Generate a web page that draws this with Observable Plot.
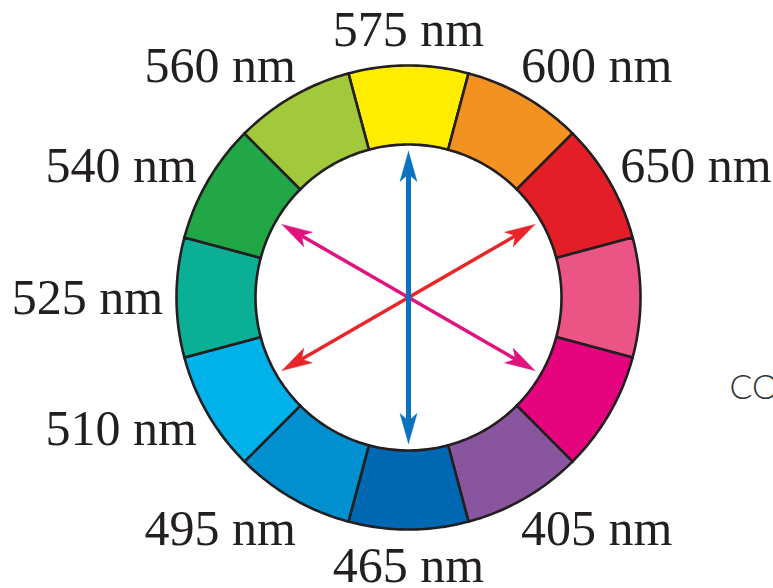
<!DOCTYPE html>
<html>
<head>
<meta charset="utf-8">
<script src="https://cdn.jsdelivr.net/npm/d3@7"></script>
<script src="https://cdn.jsdelivr.net/npm/@observablehq/plot@0.6"></script>
<style>
  html, body { margin: 0; padding: 0; background: #fff; }
  #chart svg { display: block; }
</style>
</head>
<body>
<div id="chart"></div>
<script>
// ---- Data ----
// 12 hue segments clockwise from the top (centre angle in degrees, clockwise from 12 o'clock)
const segmentLabels = ["575 nm", "600 nm", "650 nm", "", "", "405 nm", "465 nm", "495 nm", "510 nm", "525 nm", "540 nm", "560 nm"];
const segmentColors = ["#ffed00", "#f39221", "#e41e26", "#eb5586", "#e6037e", "#8a559f", "#0068b3", "#008fcf", "#00b1ea", "#0aaf96", "#22a746", "#a2c83b"];
const segmentAngles = [0, 30, 60, 90, 120, 150, 180, 210, 240, 270, 300, 330];

// complementary-pair double arrows (angle of one end, clockwise from top)
const arrowAngles = [60, 300, 0];
const arrowColors = ["#e8262a", "#e0137f", "#0a72bf"];
const arrowWidths = [3.5, 3.5, 5];

const sideText = ["CO"];

// ---- Geometry helpers (data units = pixels, y up, wheel centre at 0,0) ----
const R_OUT = 232, R_IN = 153, R_ARROW = 146, HEAD_L = 30, HEAD_W = 8.5;
const rad = d => d * Math.PI / 180;
const polar = (r, deg) => [r * Math.sin(rad(deg)), r * Math.cos(rad(deg))];

function segmentPolygon(center) {
  const pts = [];
  const n = 30;
  for (let k = 0; k <= n; k++) pts.push(polar(R_OUT, center - 15 + 30 * k / n));
  for (let k = 0; k <= n; k++) pts.push(polar(R_IN, center + 15 - 30 * k / n));
  pts.push(pts[0]);
  return pts.map(([x, y]) => ({x, y}));
}

function headPolygon(deg) {
  const u = [Math.sin(rad(deg)), Math.cos(rad(deg))];
  const p = [Math.cos(rad(deg)), -Math.sin(rad(deg))];
  const T = [R_ARROW * u[0], R_ARROW * u[1]];
  const back = [T[0] - HEAD_L * u[0], T[1] - HEAD_L * u[1]];
  const notch = [T[0] - 0.75 * HEAD_L * u[0], T[1] - 0.75 * HEAD_L * u[1]];
  const pts = [T, [back[0] + HEAD_W * p[0], back[1] + HEAD_W * p[1]], notch,
               [back[0] - HEAD_W * p[0], back[1] - HEAD_W * p[1]], T];
  return pts.map(([x, y]) => ({x, y}));
}

function labelPos(deg) {
  const s = Math.sin(rad(deg)), c = Math.cos(rad(deg));
  const x = 321 * Math.sign(s) * Math.pow(Math.abs(s), 0.77);
  const y = 268 * Math.sign(c) * Math.pow(Math.abs(c), 1.03);
  return {x, y};
}

const labelRows = segmentLabels
  .map((label, i) => ({label, ...labelPos(segmentAngles[i])}))
  .filter(d => d.label);

const marks = [];
segmentAngles.forEach((a, i) => {
  marks.push(Plot.line(segmentPolygon(a), {
    x: "x", y: "y", fill: segmentColors[i], stroke: "#231f20",
    strokeWidth: 2.6, strokeLinejoin: "miter", strokeMiterlimit: 4, curve: "linear"
  }));
});

arrowAngles.forEach((a, i) => {
  const s = R_ARROW - 0.7 * HEAD_L;
  const [x1, y1] = polar(s, a), [x2, y2] = polar(s, a + 180);
  marks.push(Plot.link([{x1, y1, x2, y2}], {
    x1: "x1", y1: "y1", x2: "x2", y2: "y2",
    stroke: arrowColors[i], strokeWidth: arrowWidths[i], strokeLinecap: "butt"
  }));
  [a, a + 180].forEach(e => {
    marks.push(Plot.line(headPolygon(e), {
      x: "x", y: "y", fill: arrowColors[i], stroke: arrowColors[i], strokeWidth: 0.5
    }));
  });
});

marks.push(Plot.text(labelRows, {
  x: "x", y: "y", text: "label", textAnchor: "middle", lineAnchor: "middle",
  fontSize: 50, fontFamily: "Liberation Serif, Times New Roman, serif", fill: "#231f20"
}));

marks.push(Plot.text(sideText, {
  x: () => 321, y: () => -91, text: d => d, textAnchor: "start", lineAnchor: "middle",
  fontSize: 34, fontWeight: 300, fontFamily: "Lato, Open Sans, sans-serif", fill: "#333"
}));

const chart = Plot.plot({
  width: 773,
  height: 588,
  margin: 0,
  style: {background: "#fff"},
  x: {domain: [-408, 365], range: [0, 773], axis: null},
  y: {domain: [-291, 297], range: [588, 0], axis: null},
  marks
});
document.getElementById("chart").appendChild(chart);
</script>
</body>
</html>
